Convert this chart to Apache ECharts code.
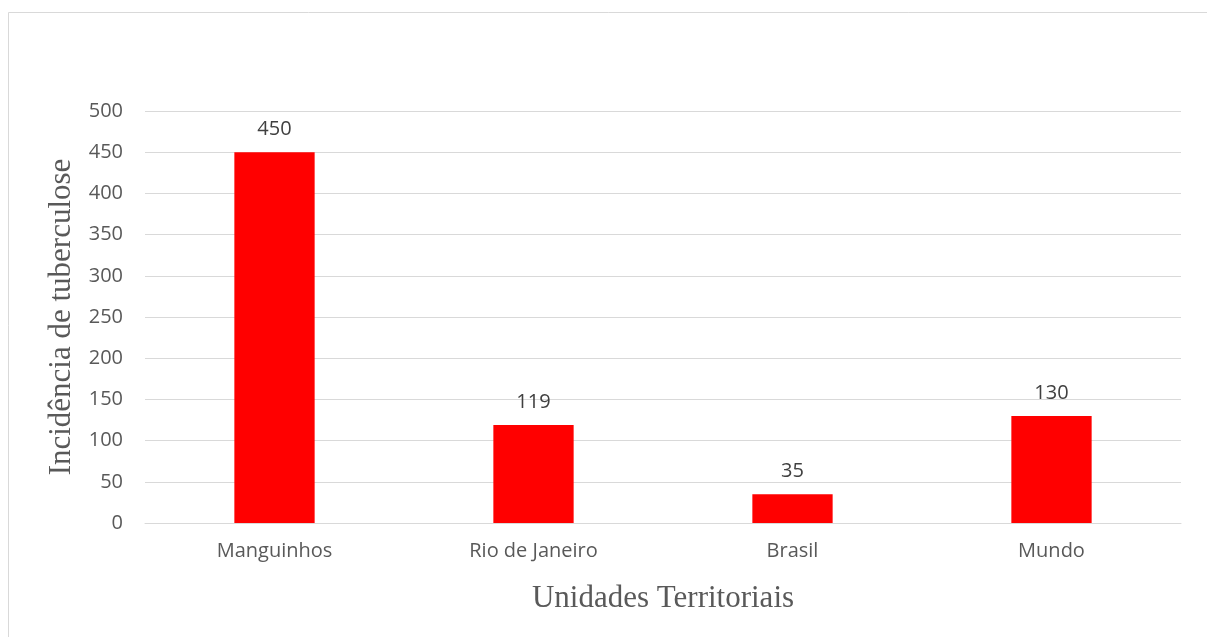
<!DOCTYPE html>
<html>
<head>
<meta charset="utf-8">
<script src="https://cdn.jsdelivr.net/npm/echarts@6/dist/echarts.min.js"></script>
<style>
html,body{margin:0;padding:0;background:#fff;}
#c{width:1207px;height:637px;}
</style>
</head>
<body>
<div id="c"></div>
<script>
const categories = ["Manguinhos", "Rio de Janeiro", "Brasil", "Mundo"];
const values = [450, 119, 35, 130];
const yTicks = [0, 50, 100, 150, 200, 250, 300, 350, 400, 450, 500];
const xTitle = "Unidades Territoriais";
const yTitle = "Incidência de tuberculose";

const chart = echarts.init(document.getElementById('c'), null, {renderer: 'canvas'});
chart.setOption({
  animation: false,
  backgroundColor: '#ffffff',
  graphic: [{
    type: 'rect',
    shape: {x: 8.5, y: 12.5, width: 1400, height: 800},
    style: {fill: 'none', stroke: '#d9d9d9', lineWidth: 1},
    silent: true
  }],
  grid: {left: 145, right: 26, top: 111, bottom: 114, containLabel: false},
  xAxis: {
    type: 'category',
    data: categories,
    name: xTitle,
    nameLocation: 'middle',
    nameGap: 60,
    nameTextStyle: {fontFamily: 'Liberation Serif', fontSize: 31, color: '#595959'},
    axisLine: {show: true, lineStyle: {color: '#d9d9d9', width: 1}},
    axisTick: {show: false},
    axisLabel: {fontFamily: 'Open Sans', fontSize: 20, color: '#595959', margin: 18}
  },
  yAxis: {
    type: 'value',
    min: yTicks[0],
    max: yTicks[yTicks.length - 1],
    interval: yTicks[1] - yTicks[0],
    name: yTitle,
    nameLocation: 'middle',
    nameGap: 67,
    nameTextStyle: {fontFamily: 'Liberation Serif', fontSize: 31, color: '#595959'},
    axisLine: {show: false},
    axisTick: {show: false},
    splitLine: {lineStyle: {color: '#d9d9d9', width: 1}},
    axisLabel: {fontFamily: 'Open Sans', fontSize: 20, color: '#595959', margin: 22}
  },
  series: [{
    type: 'bar',
    data: values,
    barWidth: '31%',
    itemStyle: {color: '#ff0000'},
    label: {
      show: true,
      position: 'top',
      distance: 13,
      fontFamily: 'Open Sans',
      fontSize: 20,
      color: '#404040'
    }
  }]
});
</script>
</body>
</html>
